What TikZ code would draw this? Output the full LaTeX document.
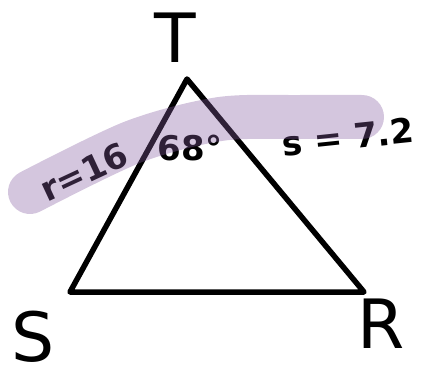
\documentclass[tikz,border=0pt]{standalone}
\usepackage{fontspec}
\setmainfont{DejaVu Sans}
\definecolor{marker}{RGB}{133,92,160}
\tikzset{
  vertex/.style={font=\fontsize{68}{68}\selectfont, inner sep=0pt},
  side/.style={font=\fontsize{34}{34}\selectfont\bfseries, inner sep=0pt},
}
\begin{document}
\begin{tikzpicture}[x=1pt,y=-1pt]
\useasboundingbox (0,0) rectangle (423,375);
\coordinate (t) at (187,79);
\coordinate (s) at (70,292);
\coordinate (r) at (364,292);
\draw[line width=5.5pt,line join=round] (t)--(s)--(r)--cycle;

\node[vertex] (T) at (175,38) {T};
\node[vertex] (S) at (33,337) {S};
\node[vertex] (R) at (381,324) {R};

\node[side,rotate=25] (rlabel) at (84,172) {r=16};
\node[side] (angle) at (190,148) {68°};
\node[side,rotate=6] (slabel) at (348,137) {s = 7.2};

\draw[marker,opacity=0.35,line width=44pt,line cap=round,line join=round]
plot[smooth] coordinates {(30,192) (133,142) (220,119) (300,117) (362,117)};
\end{tikzpicture}
\end{document}
